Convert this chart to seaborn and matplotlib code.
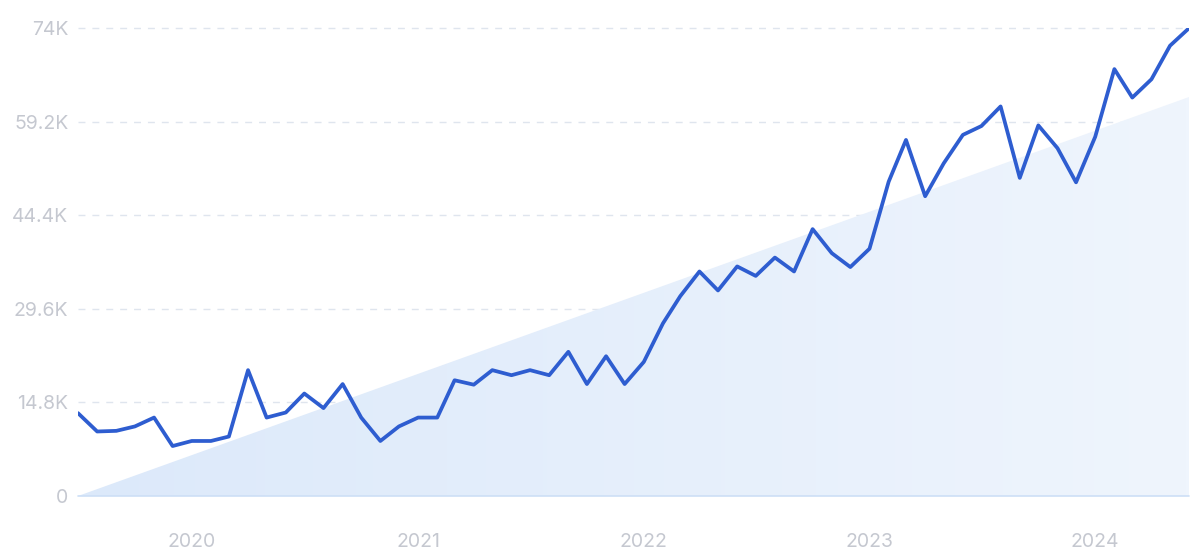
import numpy as np
import pandas as pd
import seaborn as sns
import matplotlib.pyplot as plt
import matplotlib.dates as mdates
from matplotlib.colors import LinearSegmentedColormap

# monthly values in thousands, Jul 2019 .. Jun 2024
values = [13.1, 10.2, 10.3, 11.0, 12.4, 7.9,
          8.7, 8.7, 9.4, 19.9, 12.4, 13.2, 16.2, 13.9, 17.7, 12.4, 8.7, 11.0,
          12.4, 12.4, 18.3, 17.6, 19.9, 19.1, 19.9, 19.1, 22.8, 17.7, 22.1, 17.7,
          21.2, 27.3, 31.6, 35.5, 32.5, 36.3, 34.8, 37.7, 35.5, 42.2, 38.4, 36.2,
          39.1, 49.7, 56.3, 47.4, 52.6, 57.1, 58.5, 61.6, 50.3, 58.6, 55.0, 49.6,
          56.8, 67.5, 63.0, 65.9, 71.2, 74.0]
months = pd.date_range("2019-07-01", periods=len(values), freq="MS")
trend_start, trend_end = 0.0, 63.1
y_ticks = [0, 14.8, 29.6, 44.4, 59.2, 74]
y_labels = ["0", "14.8K", "29.6K", "44.4K", "59.2K", "74K"]
x_years = ["2020", "2021", "2022", "2023", "2024"]

df = pd.DataFrame({"month": months, "value": values})

sns.set_theme(style="white")
plt.rcParams["font.family"] = ["Inter", "DejaVu Sans"]

fig = plt.figure(figsize=(12, 5.6), dpi=100)
ax = fig.add_axes([0.065, 0.1143, 0.926, 0.8357])

x0, x1 = mdates.date2num(months[0]), mdates.date2num(months[-1])
ax.set_xlim(x0, x1)
ax.set_ylim(0, 74)

# trend triangle with horizontal gradient
tx = [x0, x1, x1]
ty = [trend_start, trend_end, 0]
poly = ax.fill(tx, ty, facecolor="none", edgecolor="none")[0]
cmap = LinearSegmentedColormap.from_list("g", ["#dce9fa", "#eff5fd"])
grad = np.linspace(0, 1, 256).reshape(1, -1)
im = ax.imshow(grad, cmap=cmap, aspect="auto", extent=[x0, x1, 0, trend_end],
               origin="lower", zorder=1)
im.set_clip_path(poly)

# grid
for t in y_ticks[1:]:
    ax.axhline(t, color="#dfe5ee", lw=1, ls=(0, (5, 5)), zorder=0.5, clip_on=False)
ax.axhline(0, color="#cddff6", lw=1.2, zorder=2, clip_on=False)

sns.lineplot(data=df, x="month", y="value", color="#2e5dd0", lw=2.7, ax=ax, zorder=3)

ax.set_yticks(y_ticks)
ax.set_yticklabels(y_labels)
ax.set_xticks([mdates.date2num(pd.Timestamp(f"{y}-01-01")) for y in x_years])
ax.set_xticklabels(x_years)
ax.tick_params(axis="both", length=0, labelsize=14, labelcolor="#c5c8d0")
ax.tick_params(axis="y", pad=7)
ax.tick_params(axis="x", pad=27)
ax.set_xlabel("")
ax.set_ylabel("")
for s in ax.spines.values():
    s.set_visible(False)

fig.savefig("out.png", dpi=100, facecolor="white")
